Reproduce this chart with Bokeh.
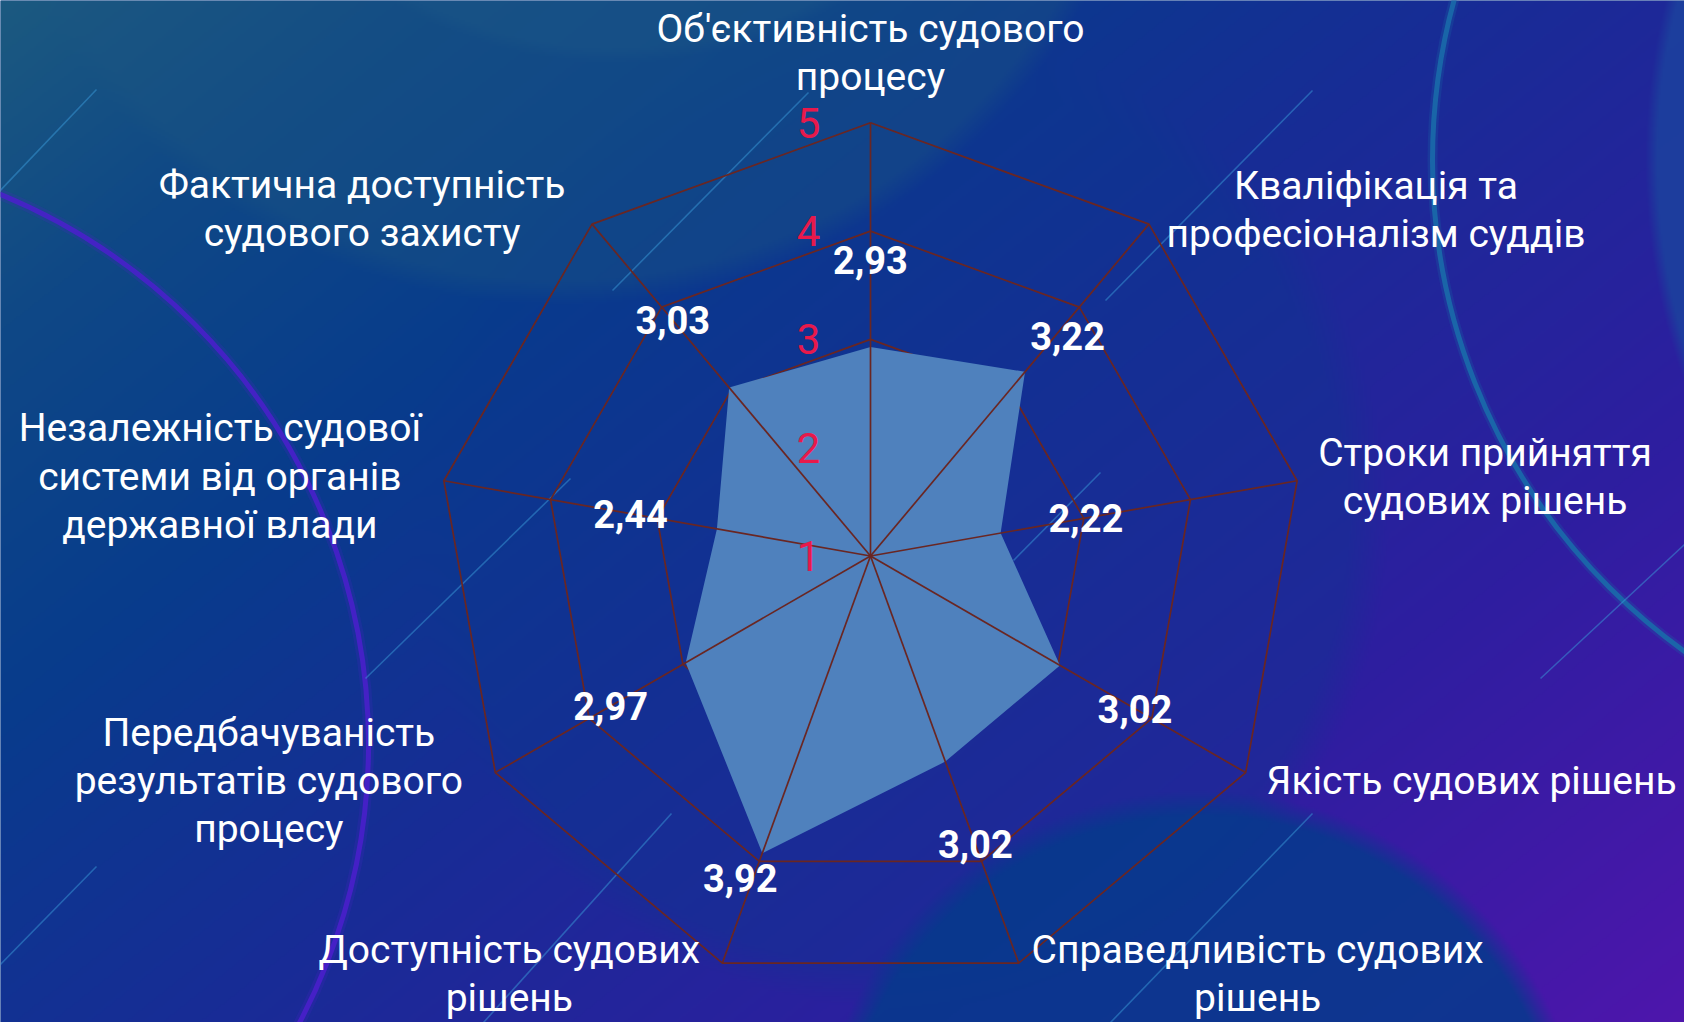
import numpy as np
from bokeh.plotting import figure
from bokeh.models import Range1d
from bokeh.core.properties import value
from bokeh.embed import file_html
from bokeh.resources import INLINE

# ---------------- data ----------------
categories = [
    "Об'єктивність судового\nпроцесу",
    "Кваліфікація та\nпрофесіоналізм суддів",
    "Строки прийняття\nсудових рішень",
    "Якість судових рішень",
    "Справедливість судових\nрішень",
    "Доступність судових\nрішень",
    "Передбачуваність\nрезультатів судового\nпроцесу",
    "Незалежність судової\nсистеми від органів\nдержавної влади",
    "Фактична доступність\nсудового захисту",
]
scores = [2.93, 3.22, 2.22, 3.02, 3.02, 3.92, 2.97, 2.44, 3.03]
score_text = ["2,93", "3,22", "2,22", "3,02", "3,02", "3,92", "2,97", "2,44", "3,03"]
ring_levels = [3, 4, 5]
tick_values = [1, 2, 3, 4, 5]
tick_text = ["1", "2", "3", "4", "5"]
r_min, r_max = 1, 5

# ---------------- layout (picture pixels) ----------------
W, H = 1684, 1022
CX, CY = 870.0, 555.5
UNIT = 108.3
N = len(categories)
label_push = [0.80, 0.51, 0.80, 0.80, 0.81, 0.29, 0.80, 0.81, 0.81]
label_turn = [0, 1.8, 0, 0, 0, 2.0, 0, 0, 0]
cat_nudge = [(0, -70), (227, -14), (188, -4), (226, 8.5), (239, 11),
             (-213, 11), (-226.5, 8.5), (-224, -4), (-230, -15)]


def Y(ypx):
    return H - ypx


def polar(v, k, turn=0.0):
    r = (v - r_min) * UNIT
    th = np.radians(360.0 / N * k + turn)
    return CX + r * np.sin(th), CY - r * np.cos(th)


p = figure(width=W, height=H, x_range=Range1d(0, W), y_range=Range1d(0, H),
           output_backend="svg", toolbar_location=None, min_border=0,
           x_axis_type=None, y_axis_type=None)
p.grid.visible = False
p.outline_line_color = None
p.background_fill_color = "#0b3c8a"
p.border_fill_color = "#0b3c8a"

# ---------------- background picture ----------------
HI, WI = 511, 842
xs = (np.arange(WI) + 0.5) * 2.0
ys = (np.arange(HI) + 0.5) * 2.0
X, YY = np.meshgrid(xs, ys)
t = np.clip((0.62 * X + 0.78 * YY) / (0.62 * 1684 + 0.78 * 1022), 0, 1)
st = [0.0, 0.14, 0.3, 0.5, 0.75, 1.0]
sc = [(28, 90, 128), (15, 72, 134), (8, 60, 140), (24, 44, 150), (46, 30, 160), (78, 22, 172)]
col = np.stack([np.interp(t, st, [c[i] for c in sc]) for i in range(3)], axis=-1)


def blend(cx, cy, r, rgb, alpha, soft=18.0):
    global col
    d = np.hypot(X - cx, YY - cy)
    a = alpha * np.clip((r - d) / soft, 0, 1)
    col = col * (1 - a[..., None]) + np.array(rgb)[None, None, :] * a[..., None]


blend(900, 520, 488, (10, 56, 142), 0.35, 40)
blend(560, -300, 605, (28, 86, 130), 0.40, 25)
blend(618, -392, 455, (30, 90, 135), 0.35, 15)
blend(2300, 160, 655, (28, 66, 158), 0.85, 12)
blend(1200, 1180, 390, (6, 58, 140), 0.85, 25)

img = np.empty((HI, WI), dtype=np.uint32)
view = img.view(dtype=np.uint8).reshape((HI, WI, 4))
view[..., 0] = np.clip(col[..., 0], 0, 255).astype(np.uint8)
view[..., 1] = np.clip(col[..., 1], 0, 255).astype(np.uint8)
view[..., 2] = np.clip(col[..., 2], 0, 255).astype(np.uint8)
view[..., 3] = 255
p.image_rgba(image=[img[::-1]], x=0, y=0, dw=W, dh=H)

# decorative rings
p.circle(x=[-227], y=[Y(744)], radius=595, fill_color=None,
         line_color="#4a22c8", line_width=11, line_alpha=0.2)
p.circle(x=[-227], y=[Y(744)], radius=595, fill_color=None,
         line_color="#4b1fcc", line_width=5, line_alpha=0.85)
p.circle(x=[2036], y=[Y(160)], radius=604, fill_color=None,
         line_color="#1866a8", line_width=10, line_alpha=0.25)
p.circle(x=[2036], y=[Y(160)], radius=604, fill_color=None,
         line_color="#1a6aaa", line_width=5, line_alpha=0.9)

# thin diagonal streaks
seg = [((-5, 195), (96, 89)), ((612, 290), (808, 92)), ((1105, 300), (1312, 90)),
       ((365, 678), (570, 478)), ((-5, 969), (96, 866)), ((483, 1022), (671, 813)),
       ((1110, 1022), (1312, 813)), ((1540, 678), (1684, 544)), ((1013, 560), (1100, 472))]
p.segment(x0=[s[0][0] for s in seg], y0=[Y(s[0][1]) for s in seg],
          x1=[s[1][0] for s in seg], y1=[Y(s[1][1]) for s in seg],
          line_color="#3a9ad8", line_width=1.6, line_alpha=0.5)

# ---------------- radar ----------------
GRID = "#6a2622"
for lvl in ring_levels:
    pts = [polar(lvl, k) for k in range(N)] + [polar(lvl, 0)]
    p.line([q[0] for q in pts], [Y(q[1]) for q in pts], line_color=GRID, line_width=1.7)

dpts = [polar(v, k) for k, v in enumerate(scores)]
p.patch([q[0] for q in dpts], [Y(q[1]) for q in dpts], fill_color="#4f81bd",
        line_color=None)

outer = [polar(r_max, k) for k in range(N)]
p.segment(x0=[CX] * N, y0=[Y(CY)] * N, x1=[q[0] for q in outer],
          y1=[Y(q[1]) for q in outer], line_color=GRID, line_width=1.7)

# ring tick labels
p.text(x=[CX - 62] * len(tick_values), y=[Y(polar(v, 0)[1]) for v in tick_values],
       text=tick_text, text_font=value("Roboto"), text_font_size="42px",
       text_color="#e8194b", text_align="center", text_baseline="middle")

# data labels
lp = [polar(v + d, k, tr) for k, (v, d, tr) in enumerate(zip(scores, label_push, label_turn))]
p.text(x=[q[0] for q in lp], y=[Y(q[1]) for q in lp], text=score_text,
       text_font=value("Roboto"), text_font_size="38px", text_font_style="bold",
       text_color="white", text_align="center", text_baseline="middle")

# category labels
cp = [(outer[k][0] + cat_nudge[k][0], outer[k][1] + cat_nudge[k][1]) for k in range(N)]
p.text(x=[q[0] for q in cp], y=[Y(q[1]) for q in cp], text=categories,
       text_font=value("Roboto"), text_font_size="39px", text_color="white",
       text_align="center", text_baseline="middle", text_line_height=1.05)

open("out.html", "w").write(file_html(p, INLINE))
